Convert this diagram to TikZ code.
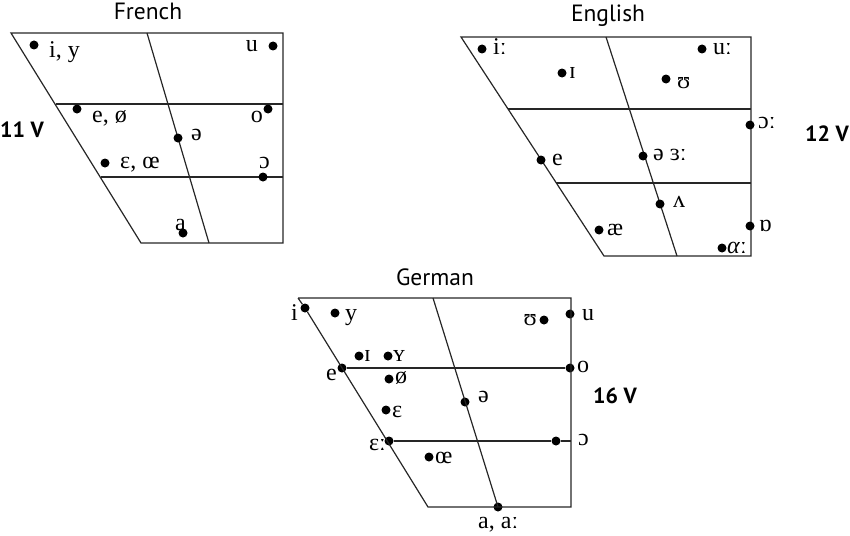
\documentclass[tikz,border=0pt]{standalone}
\usepackage{fontspec}
\setmainfont{Liberation Serif}
\newfontfamily\titlefont{PT Sans}
\begin{document}
\begin{tikzpicture}[x=1pt,y=-1pt,
  chart/.style={line width=1.2pt, draw=black!85},
  dot/.style={circle, fill=black, inner sep=0pt, minimum size=9pt},
  ipa/.style={font=\fontsize{24}{24}\selectfont, inner sep=0pt},
  lw/.style={ipa, anchor=base west},
  le/.style={ipa, anchor=base east},
  title/.style={font=\titlefont\fontsize{23.5}{23.5}\selectfont, inner sep=0pt, anchor=base},
  count/.style={font=\titlefont\bfseries\fontsize{22}{22}\selectfont, inner sep=0pt, anchor=base west}]
\useasboundingbox (0,0) rectangle (850,535);

% ---------------- French ----------------
\coordinate (Ftl) at (11,33);   \coordinate (Ftr) at (283,33);
\coordinate (Fbr) at (283,243); \coordinate (Fbl) at (141,243);
\coordinate (Fct) at (147,33);  \coordinate (Fcb) at (209,243);
\coordinate (Fh1l) at (55.5,104); \coordinate (Fh1r) at (283,104);
\coordinate (Fh2l) at (100.5,177); \coordinate (Fh2r) at (283,177);
\draw[chart] (Ftl) -- (Ftr) -- (Fbr) -- (Fbl) -- cycle;
\draw[chart] (Fct) -- (Fcb);
\draw[chart] (Fh1l) -- (Fh1r);
\draw[chart] (Fh2l) -- (Fh2r);
\node[title] (Ftitle) at (148,20) {French};
\node[count] (Fcount) at (0,137) {11 V};
\node[dot] (Fi) at (34,45) {};   \node[lw] (Fil) at (49,57) {i, y};
\node[dot] (Fu) at (273,46) {};  \node[le] (Ful) at (258,52) {u};
\node[dot] (Fe) at (77,109) {};  \node[lw] (Fel) at (92,122) {e, ø};
\node[dot] (Fo) at (268,109) {}; \node[le] (Fol) at (263,122) {o};
\node[dot] (Fsch) at (178,138) {}; \node[lw] (Fschl) at (191,140) {ə};
\node[dot] (Feps) at (105,163) {}; \node[lw] (Fepsl) at (120,168) {ɛ, œ};
\node[dot] (Fopen) at (263,177) {}; \node[le] (Fopenl) at (270,168) {ɔ};
\node[dot] (Fa) at (183,233) {}; \node[lw] (Fal) at (175,230) {a};

% ---------------- English ----------------
\coordinate (Etl) at (461,37);  \coordinate (Etr) at (751,37);
\coordinate (Ebr) at (751,256); \coordinate (Ebl) at (604,256);
\coordinate (Ect) at (606,37);  \coordinate (Ecb) at (677,256);
\coordinate (Eh1l) at (508,109); \coordinate (Eh1r) at (751,109);
\coordinate (Eh2l) at (556.3,183); \coordinate (Eh2r) at (751,183);
\draw[chart] (Etl) -- (Etr) -- (Ebr) -- (Ebl) -- cycle;
\draw[chart] (Ect) -- (Ecb);
\draw[chart] (Eh1l) -- (Eh1r);
\draw[chart] (Eh2l) -- (Eh2r);
\node[title] (Etitle) at (608,22) {English};
\node[count, anchor=base east] (Ecount) at (849,141) {12 V};
\node[dot] (Ei) at (482,49) {};   \node[lw] (Eil) at (493,55) {iː};
\node[dot] (EI) at (562,73) {};   \node[lw] (EIl) at (569,78) {ɪ};
\node[dot] (Eu) at (702,49) {};   \node[lw] (Eul) at (713,55) {uː};
\node[dot] (EU) at (666,79) {};   \node[lw] (EUl) at (677,88) {ʊ};
\node[dot] (Eo) at (750,125) {};  \node[lw] (Eol) at (758,128) {ɔː};
\node[dot] (Esch) at (643,156) {}; \node[lw] (Eschl) at (653,160) {ə ɜː};
\node[dot] (Ee) at (541,160) {};  \node[lw] (Eel) at (552,165) {e};
\node[dot] (Ev) at (660,204) {};  \node[lw] (Evl) at (673,207) {ʌ};
\node[dot] (Eae) at (599,230) {}; \node[lw] (Eael) at (607,235) {æ};
\node[dot] (Eqo) at (750,226) {}; \node[lw] (Eqol) at (759,231) {ɒ};
\node[dot] (Eq) at (722,248) {};  \node[lw] (Eql) at (727,253) {\textit{α}ː};

% ---------------- German ----------------
\coordinate (Gtl) at (298,298); \coordinate (Gtr) at (571,298);
\coordinate (Gbr) at (571,507); \coordinate (Gbl) at (428,507);
\coordinate (Gct) at (433,298); \coordinate (Gcb) at (498,507);
\node[title] (Gtitle) at (435,285) {German};
\node[count] (Gcount) at (593,403) {16 V};
\node[dot] (Gi) at (305,308) {};  \node[le] (Gil) at (298,320) {i};
\node[dot] (Gy) at (335,313) {};  \node[lw] (Gyl) at (345,320) {y};
\node[dot] (GU) at (544,320) {};  \node[le] (GUl) at (537,325) {ʊ};
\node[dot] (Gu) at (570,314) {};  \node[lw] (Gul) at (582,320) {u};
\node[dot] (GI) at (359,356) {};  \node[lw] (GIl) at (364,361) {ɪ};
\node[dot] (GY) at (388,356) {};  \node[lw] (GYl) at (393,361) {ʏ};
\node[dot] (Ge) at (342,368) {};  \node[le] (Gel) at (337,380) {e};
\node[dot] (Go) at (570,368) {};  \node[lw] (Gol) at (577,372) {o};
\node[dot] (Goe) at (389,379) {}; \node[lw] (Goel) at (395,383) {ø};
\node[dot] (Gsch) at (465,402) {}; \node[lw] (Gschl) at (478,402) {ə};
\node[dot] (Geps) at (386,410) {}; \node[lw] (Gepsl) at (392,417) {ɛ};
\node[dot] (Gepl) at (389,441) {}; \node[le] (Gepll) at (386,450) {ɛː};
\node[dot] (Gopen) at (556,441) {}; \node[lw] (Gopenl) at (578,445) {ɔ};
\node[dot] (Goe2) at (429,457) {}; \node[lw] (Goe2l) at (435,463) {œ};
\node[dot] (Ga) at (498,507) {};  \node[lw] (Gal) at (478,528) {a, aː};
\draw[chart] (Gtl) -- (Gtr) -- (Gbr) -- (Gbl) -- (Gi) -- (Gtl);
\draw[chart] (Gct) -- (Gcb);
\draw[chart] (Ge) -- (Go);
\draw[chart] (Gepl) -- (Gopen) -- (571,441);
\end{tikzpicture}
\end{document}
